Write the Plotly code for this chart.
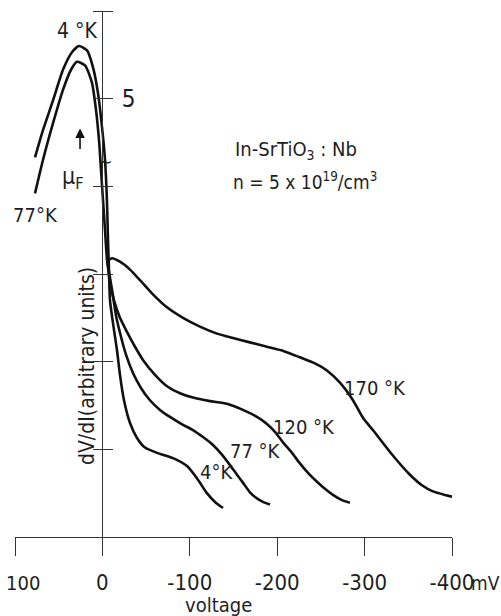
import plotly.graph_objects as go

# ---- data (voltage in mV, dV/dI in arbitrary units) ----
v_4k = [77.1, 68.0, 56.5, 45.1, 34.8, 26.8, 17.6, 10.8, 5.0, 0.5, -3.0, -5.2, -6.4, -7.5, -8.7,
        -13.3, -16.7, -20.1, -24.7, -31.6, -39.6, -48.7, -62.4, -80.8, -96.8, -108.2, -119.6, -128.8, -138.0]
y_4k = [4.33, 4.64, 4.98, 5.33, 5.53, 5.60, 5.55, 5.36, 5.06, 4.68, 4.30, 3.84, 3.39, 3.05, 2.70,
        2.36, 2.13, 1.85, 1.56, 1.30, 1.13, 1.02, 0.96, 0.90, 0.81, 0.67, 0.50, 0.40, 0.33]

v_77k = [77.1, 68.0, 56.5, 45.1, 35.9, 29.1, 19.9, 11.9, 7.3, 3.9, 1.6, -0.7, -3.0, -5.2, -11.0,
         -15.5, -20.1, -27.0, -35.0, -44.1, -54.4, -65.9, -77.3, -92.2, -103.6, -115.1, -126.5,
         -136.8, -146.0, -154.0, -160.8, -168.8, -176.8, -183.7, -191.7]
y_77k = [3.92, 4.30, 4.72, 5.10, 5.33, 5.42, 5.38, 5.18, 4.87, 4.53, 4.19, 3.84, 3.50, 3.18, 2.82,
         2.53, 2.33, 2.08, 1.87, 1.70, 1.56, 1.45, 1.37, 1.28, 1.22, 1.14, 1.05,
         0.94, 0.82, 0.71, 0.62, 0.51, 0.44, 0.40, 0.37]

v_120k = [-5.2, -8.7, -13.3, -20.1, -28.1, -37.3, -46.4, -60.2, -73.9, -88.8, -103.6, -123.1, -142.5,
          -160.8, -176.8, -188.3, -197.4, -206.6, -216.9, -226.0, -236.3, -245.5, -254.6, -263.8,
          -274.1, -283.2]
y_120k = [3.18, 2.90, 2.70, 2.50, 2.34, 2.17, 2.02, 1.85, 1.72, 1.64, 1.59, 1.55, 1.52,
          1.45, 1.37, 1.29, 1.20, 1.08, 0.96, 0.84, 0.72, 0.63, 0.55, 0.48,
          0.42, 0.39]

v_170k = [-5.2, -11.0, -20.1, -31.6, -43.0, -56.7, -73.9, -92.2, -111.6, -131.1, -149.4, -168.8,
          -188.3, -207.7, -226.0, -243.2, -256.9, -271.8, -286.7, -298.1, -309.5, -329.0, -351.9,
          -365.6, -378.2, -391.9, -400.5]
y_170k = [3.14, 3.18, 3.14, 3.05, 2.93, 2.78, 2.62, 2.50, 2.40, 2.32, 2.27, 2.22,
          2.17, 2.12, 2.05, 1.98, 1.90, 1.76, 1.56, 1.36, 1.22, 0.97, 0.71,
          0.59, 0.52, 0.48, 0.46]

x_tickvals = [100, 0, -100, -200, -300, -400]
x_ticktext = ["", "0", "-100", "-200", "-300", "-400"]   # "100" drawn as a shifted label below
y_tickvals = [1, 2, 3, 4, 5, 6]
y_ticktext = ["", "", "", "", "5", ""]

FONT = "Liberation Sans Narrow, DejaVu Sans Condensed, Arial Narrow, sans-serif"
INK = "#111111"
TXT = "#1e1e1e"

# body margin is removed in the page (see post_script), so figure == window
W, H = 501, 616


def px_x(p):
    return p / W


def px_y(p):
    return (H - p) / H


fig = go.Figure()
for vx, vy in [(v_4k, y_4k), (v_77k, y_77k), (v_120k, y_120k), (v_170k, y_170k)]:
    fig.add_trace(go.Scatter(x=vx, y=vy, mode="lines",
                             line=dict(color=INK, width=2.6, shape="spline", smoothing=0.6),
                             showlegend=False, hoverinfo="skip"))
# invisible trace to activate the right-side tick axis
fig.add_trace(go.Scatter(x=v_4k[:1], y=y_4k[:1], yaxis="y2", mode="lines", showlegend=False,
                         line=dict(color="rgba(0,0,0,0)"), hoverinfo="skip"))

xdom = [px_x(15), px_x(452)]
ydom = [px_y(537), px_y(11)]
yaxis_pos = px_x(102)

fig.update_layout(
    width=W, height=H,
    margin=dict(l=0, r=0, t=0, b=0, autoexpand=False),
    paper_bgcolor="white", plot_bgcolor="white",
    font=dict(family=FONT, color=TXT, size=20),
    xaxis=dict(domain=xdom, range=[100, -400], tickvals=x_tickvals, ticktext=x_ticktext,
               ticks="outside", ticklen=18, tickwidth=1.3, tickcolor="#333",
               showline=True, linewidth=1.3, linecolor="#333", showgrid=False, zeroline=False,
               tickfont=dict(size=22, family=FONT, color=TXT), ticklabelstandoff=7,
               ticklabeloverflow="allow", automargin=False, anchor="y"),
    yaxis=dict(domain=ydom, range=[0, 6], tickvals=y_tickvals, ticks="outside", ticklen=9,
               tickwidth=1.3, tickcolor="#333", showticklabels=False,
               showline=True, linewidth=1.3, linecolor="#333", showgrid=False, zeroline=False,
               anchor="free", position=yaxis_pos, automargin=False),
    yaxis2=dict(domain=ydom, range=[0, 6], overlaying="y", side="right", anchor="free",
                position=yaxis_pos, tickvals=y_tickvals, ticktext=y_ticktext, ticks="outside",
                ticklen=10, tickwidth=1.3, tickcolor="#333", showline=False, showgrid=False,
                zeroline=False, tickfont=dict(size=24, family=FONT, color=TXT),
                ticklabelstandoff=4, automargin=False),
)


def label(text, x, y, size=20, **kw):
    fig.add_annotation(text=text, x=x, y=y, xref="x", yref="y", showarrow=False,
                       xanchor="center", yanchor="middle",
                       font=dict(size=size, family=FONT, color=TXT), **kw)


label("4 °K", 29.1, 5.77, size=21)
label("77°K", 76.0, 3.67)
label("μ<sub>F</sub>", 33.5, 4.10, size=23)
label("170 °K", -311.8, 1.70)
label("120 °K", -230.6, 1.25)
label("77 °K", -174.6, 0.98)
label("4°K", -131.1, 0.74)
label("In-SrTiO<sub>3</sub> : Nb", -221.5, 4.41)
label("n = 5 x 10<sup>19</sup>/cm<sup>3</sup>", -232.0, 4.06, size=19)
label("dV/dI(arbitrary units)", 17.6, 1.95, size=21, textangle=-90)
label("∼", -4.0, 4.28, size=18)

# arrow pointing to the Fermi level
fig.add_annotation(x=25.6, y=4.66, xref="x", yref="y", ax=0, ay=22, text="", showarrow=True,
                   arrowhead=2, arrowsize=1.2, arrowwidth=1.6, arrowcolor=INK)


def page_text(text, xp, yp, size):
    fig.add_annotation(text=text, x=px_x(xp), y=px_y(yp), xref="paper", yref="paper",
                       xanchor="center", yanchor="middle", showarrow=False,
                       font=dict(size=size, family=FONT, color=TXT))


page_text("100", 23, 583, 20)
page_text("mV", 485, 583, 19)
page_text("voltage", 218, 605, 20)

fig.write_html("out.html", config={"displayModeBar": False},
               post_script="document.body.style.margin='0';document.body.style.overflow='hidden';")
